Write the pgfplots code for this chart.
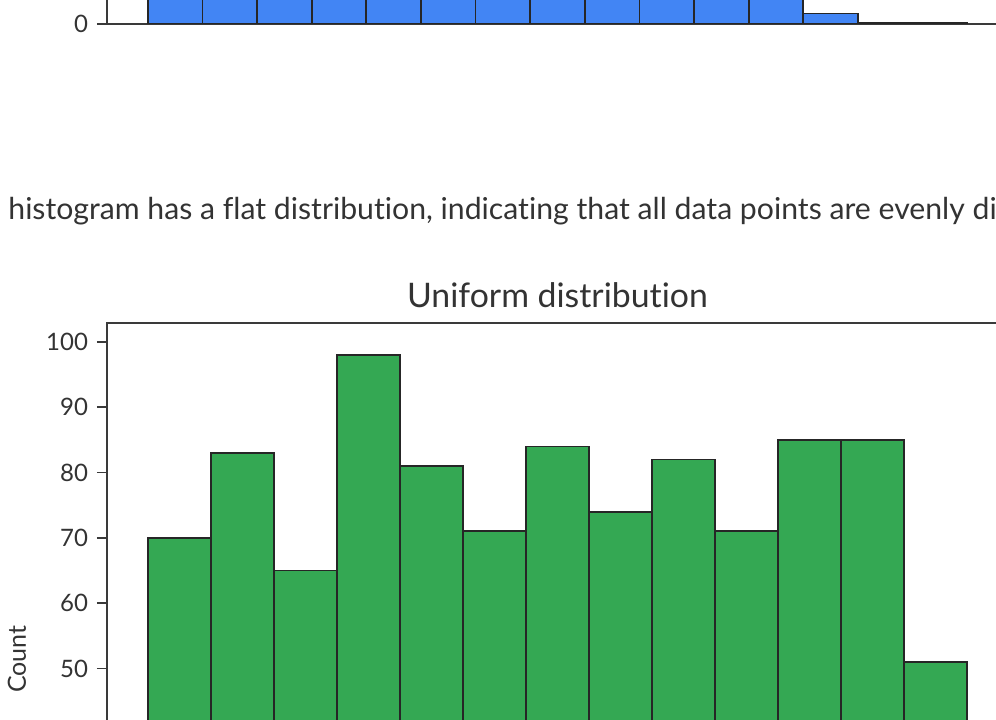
\documentclass[border=0pt]{standalone}
\usepackage{fontspec}
\setmainfont{Lato}[Ligatures=NoCommon]
\usepackage{pgfplots}
\pgfplotsset{compat=1.18}
\definecolor{gblue}{HTML}{4285F4}
\definecolor{ggreen}{HTML}{34A853}
\definecolor{spine}{HTML}{3A3A3A}
\definecolor{txt}{HTML}{333333}
\begin{document}
\begin{tikzpicture}
\useasboundingbox (0,0) rectangle (498pt,359.5pt);
\clip (0,0) rectangle (498pt,359.5pt);
\pgfplotsset{
  histax/.style={
    scale only axis,
    width=450.5pt, height=336pt,
    anchor=south west,
    axis line style={spine, line width=0.9pt},
    tick style={spine, line width=0.8pt},
    tick align=outside,
    major tick length=5pt,
    xtick=\empty,
    ytick pos=left,
    ymin=0,
    /pgf/number format/assume math mode=true,
    tick label style={font=\fontsize{12}{14}\selectfont, text=txt},
    yticklabel style={xshift=-1pt},
  }
}
% top histogram (only its base is visible)
\begin{axis}[histax,
  at={(53.5pt,347.5pt)},
  xmin=-0.75, xmax=15.75,
  ymax=448,
  ytick={0,100,200,300,400},
]
\addplot[ybar interval, fill=gblue, draw=black!85, line width=0.9pt] coordinates {
  (0,380) (1,385) (2,378) (3,390) (4,382) (5,376) (6,388) (7,384) (8,379) (9,386) (10,381) (11,383) (12,7) (13,1) (14,1) (15,1)
};
\end{axis}
% explanatory text
\node[anchor=base west, inner sep=0pt, font=\fontsize{15.1}{18}\selectfont, text=txt]
  at (4pt,249.5pt) {\llap{The\ }histogram has a flat distribution, indicating that all data points are evenly distributed across the range.};
% uniform histogram
\begin{axis}[histax,
  at={(53.5pt,-138pt)},
  xmin=-0.65, xmax=13.65,
  ymax=102.9,
  ytick={0,10,...,100},
  title={Uniform distribution},
  title style={font=\fontsize{16.9}{20}\selectfont, text=txt, at={(0.5,1)}, anchor=base, yshift=2pt},
  ylabel={Count},
  ylabel style={font=\fontsize{12.5}{15}\selectfont, text=txt, at={(axis description cs:-0.0999,0.5)}, anchor=center},
]
\addplot[ybar interval, fill=ggreen, draw=black!85, line width=0.9pt] coordinates {
  (0,70) (1,83) (2,65) (3,98) (4,81) (5,71) (6,84) (7,74) (8,82) (9,71) (10,85) (11,85) (12,51) (13,51)
};
\end{axis}
\end{tikzpicture}
\end{document}
